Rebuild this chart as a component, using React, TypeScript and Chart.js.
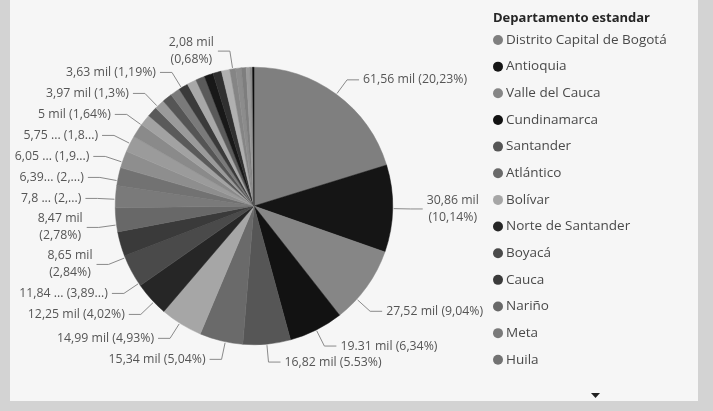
import React, { useEffect, useRef } from "react";
import { Chart, registerables } from "chart.js";

Chart.register(...registerables);

// ---- data ----
const departments = [
  "Distrito Capital de Bogotá", "Antioquia", "Valle del Cauca", "Cundinamarca", "Santander",
  "Atlántico", "Bolívar", "Norte de Santander", "Boyacá", "Cauca", "Nariño", "Meta", "Huila",
  "Tolima", "Córdoba", "Magdalena", "Cesar", "Risaralda", "Caldas", "Quindío", "Sucre",
  "Casanare", "La Guajira", "Caquetá", "Chocó", "Putumayo", "Arauca", "Guaviare",
  "Amazonas", "San Andrés", "Vichada", "Guainía", "Vaupés",
];
const values = [
  61.56, 30.86, 27.52, 19.31, 16.82, 15.34, 14.99, 12.25, 11.84, 8.65, 8.47, 7.8, 6.39,
  6.05, 5.75, 5.0, 3.97, 3.63, 3.58, 3.5, 3.44, 3.37, 3.3, 3.24, 3.15, 3.05, 2.95, 2.08,
  1.98, 1.7, 1.3, 0.95, 0.51,
];
const sliceColors = [
  "#7f7f7f", "#151515", "#868686", "#121212", "#565656", "#6a6a6a", "#a6a6a6", "#262626",
  "#4a4a4a", "#3a3a3a", "#686868", "#7a7a7a", "#727272", "#8e8e8e", "#9b9b9b", "#8a8a8a",
  "#a2a2a2", "#5a5a5a", "#9a9a9a", "#555555", "#7a7a7a", "#3a3a3a", "#a8a8a8", "#5a5a5a",
  "#181818", "#303030", "#b0b0b0", "#858585", "#8c8c8c", "#7e7e7e", "#9a9a9a", "#8a8a8a",
  "#0d0d0d",
];
const dataLabels = [
  "61,56 mil (20,23%)", "30,86 mil\n(10,14%)", "27,52 mil (9,04%)", "19.31 mil (6,34%)",
  "16,82 mil (5.53%)", "15,34 mil (5,04%)", "14,99 mil (4,93%)", "12,25 mil (4,02%)",
  "11,84 ... (3,89...)", "8,65 mil\n(2,84%)", "8,47 mil\n(2,78%)", "7,8 ... (2,...)",
  "6,39... (2,...)", "6,05 ... (1,9...)", "5,75 ... (1,8...)", "5 mil (1,64%)",
  "3,97 mil (1,3%)", "3,63 mil (1,19%)", "", "", "", "", "", "", "", "", "",
  "2,08 mil\n(0,68%)", "", "", "", "", "",
];
const legendTitle = "Departamento estandar";
const legendVisibleCount = 13;

const FONT = '"Open Sans", "Noto Sans", sans-serif';

const backgroundPlugin = {
  id: "pbiBackground",
  beforeDraw(chart: any) {
    const { ctx, width, height } = chart;
    ctx.save();
    ctx.fillStyle = "#d3d3d3";
    ctx.fillRect(0, 0, width, height);
    ctx.fillStyle = "#f6f6f6";
    ctx.fillRect(10, 0, 688, 401);
    ctx.restore();
  },
};

function spreadClusters(list: any[], gapFn: (a: any, b: any) => number) {
  const layout = (c: any[]) => {
    const offs: number[] = [0];
    for (let i = 1; i < c.length; i++) offs.push(offs[i - 1] + gapFn(c[i - 1], c[i]));
    let sum = 0;
    c.forEach((d, i) => (sum += d.ideal - offs[i]));
    const p0 = sum / c.length;
    c.forEach((d, i) => (d.y = p0 + offs[i]));
  };
  const clusters = list.map((d) => [d]);
  clusters.forEach(layout);
  let merged = true;
  while (merged) {
    merged = false;
    for (let i = 0; i < clusters.length - 1; i++) {
      const a = clusters[i], b = clusters[i + 1];
      const last = a[a.length - 1], first = b[0];
      if (first.y - last.y < gapFn(last, first)) {
        clusters.splice(i, 2, a.concat(b));
        layout(clusters[i]);
        merged = true;
        break;
      }
    }
  }
}

const labelPlugin = {
  id: "pbiLabels",
  afterDatasetsDraw(chart: any) {
    const ctx = chart.ctx as CanvasRenderingContext2D;
    const arcs = chart.getDatasetMeta(0).data;
    if (!arcs.length) return;
    const a0 = arcs[0].getProps(["x", "y", "outerRadius"], true);
    const cx = a0.x, cy = a0.y, r = a0.outerRadius;
    const R = r + 18;
    const lineH = 17;
    const maxRight = 484;
    ctx.save();
    ctx.font = `12.3px ${FONT}`;
    const items: any[] = [];
    arcs.forEach((arc: any, i: number) => {
      const text = dataLabels[i];
      if (!text) return;
      const p = arc.getProps(["startAngle", "endAngle"], true);
      const mid = (p.startAngle + p.endAngle) / 2;
      const lines = text.split("\n");
      const w = Math.max(...lines.map((l: string) => ctx.measureText(l).width));
      const c = Math.cos(mid), s = Math.sin(mid);
      const side = s < -0.97 ? "top" : c >= 0 ? "right" : "left";
      const ideal = cy + R * s;
      items.push({ lines, w, ideal, y: ideal, side, h: lines.length === 1 ? 14 : 30 });
    });
    const dxAt = (y: number) => Math.sqrt(Math.max(0, R * R - (y - cy) * (y - cy)));

    // right side: top to bottom
    const right = items.filter((d) => d.side === "right").sort((a, b) => a.ideal - b.ideal);
    let prev: any = null;
    for (const d of right) {
      if (prev) d.y = Math.max(d.y, prev.y + (prev.h + d.h) / 2 - 2);
      while (cx + dxAt(d.y) + 16 + d.w > maxRight && d.y < cy + R) d.y += 1;
      prev = d;
    }
    // left side: cluster spreading
    const left = items.filter((d) => d.side === "left").sort((a, b) => a.ideal - b.ideal);
    spreadClusters(left, (a, b) => (a.h + b.h) / 2 + 7);

    // boxes of top labels to keep left labels clear of them
    const tops = items.filter((d) => d.side === "top");

    ctx.strokeStyle = "#8a8a8a";
    ctx.lineWidth = 1;
    ctx.fillStyle = "#555555";
    ctx.textBaseline = "middle";
    ctx.textAlign = "center";
    const drawn: any[] = [];
    for (const d of [...tops, ...items.filter((x) => x.side !== "top")]) {
      const dir = d.side === "right" ? 1 : -1;
      const ex = cx + dir * dxAt(d.y);
      const ey = d.y;
      let textEdge = ex + dir * 16;
      if (d.side === "left") {
        for (const t of drawn) {
          const overlapY = Math.abs(t.y - ey) < (t.h + d.h) / 2 + 2;
          if (overlapY && textEdge > t.left - 5) textEdge = t.left - 5;
        }
      }
      const vx = ex - cx, vy = ey - cy;
      const len = Math.sqrt(vx * vx + vy * vy) || 1;
      const px = cx + (vx / len) * (r + 1);
      const py = cy + (vy / len) * (r + 1);
      ctx.beginPath();
      ctx.moveTo(px, py);
      ctx.lineTo(ex, ey);
      ctx.lineTo(textEdge - dir * 4, ey);
      ctx.stroke();
      const blockCenter = textEdge + (dir * d.w) / 2;
      const n = d.lines.length;
      d.lines.forEach((l: string, k: number) => {
        ctx.fillText(l, blockCenter, ey + (k - (n - 1) / 2) * lineH);
      });
      drawn.push({ y: ey, h: d.h + 4, left: blockCenter - d.w / 2 });
    }
    ctx.restore();
  },
  afterDraw(chart: any) {
    const ctx = chart.ctx as CanvasRenderingContext2D;
    const colors = chart.data.datasets[0].backgroundColor as string[];
    const names = chart.data.labels as string[];
    ctx.save();
    ctx.textBaseline = "middle";
    ctx.textAlign = "left";
    ctx.fillStyle = "#262626";
    ctx.font = `bold 13px ${FONT}`;
    ctx.fillText(legendTitle, 493, 18);
    ctx.font = `13.5px ${FONT}`;
    for (let i = 0; i < legendVisibleCount; i++) {
      const y = 40 + i * 26.65;
      ctx.beginPath();
      ctx.arc(498, y, 5, 0, Math.PI * 2);
      ctx.fillStyle = colors[i];
      ctx.fill();
      ctx.fillStyle = "#4a4a4a";
      ctx.fillText(names[i], 506, y);
    }
    ctx.fillStyle = "#202020";
    ctx.beginPath();
    ctx.moveTo(591, 393);
    ctx.lineTo(600, 393);
    ctx.lineTo(595.5, 398);
    ctx.closePath();
    ctx.fill();
    ctx.restore();
  },
};

export default function App() {
  const ref = useRef<HTMLCanvasElement>(null);
  useEffect(() => {
    if (!ref.current) return;
    const chart = new Chart(ref.current, {
      type: "pie",
      data: {
        labels: departments,
        datasets: [
          {
            data: values,
            backgroundColor: sliceColors,
            borderColor: sliceColors,
            borderWidth: 0.5,
          },
        ],
      },
      options: {
        responsive: false,
        animation: false,
        layout: { padding: { left: 115, right: 320, top: 67, bottom: 66 } },
        plugins: { legend: { display: false }, tooltip: { enabled: false } },
      },
      plugins: [backgroundPlugin, labelPlugin],
    } as any);
    return () => chart.destroy();
  }, []);
  return (
    <div style={{ position: "fixed", left: 0, top: 0, width: 713, height: 411 }}>
      <canvas ref={ref} width={713} height={411} style={{ display: "block" }} />
    </div>
  );
}
